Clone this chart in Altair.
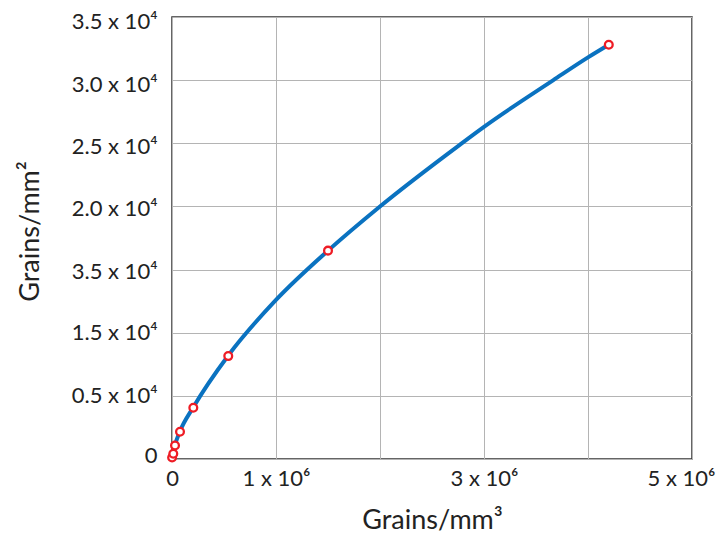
import altair as alt
import pandas as pd

# Measured points (red circles)
pt_x = [1000, 12500, 29000, 77000, 205000, 541000, 1500000, 4200000]
pt_y = [120, 410, 1070, 2160, 4060, 8150, 16500, 32800]

# Fitted curve
cv_x = [0, 29000, 77000, 205000, 541000, 1000000,
        1500000, 1985000, 2770000, 3000000, 3667000, 4000000, 4200000]
cv_y = [0, 1100, 2200, 4100, 8200, 12600,
        16500, 19900, 24900, 26300, 30000, 31800, 32800]

x_ticks = [0, 1000000, 2000000, 3000000, 4000000, 5000000]
x_labels = ["0", "1 x 10⁶", "", "3 x 10⁶", "", "5 x 10⁶"]
y_ticks = [0, 5000, 10000, 15000, 20000, 25000, 30000, 35000]
y_labels = ["0", "0.5 x 10⁴", "1.5 x 10⁴", "3.5 x 10⁴", "2.0 x 10⁴",
            "2.5 x 10⁴", "3.0 x 10⁴", "3.5 x 10⁴"]

pts = pd.DataFrame({"x": pt_x, "y": pt_y})
curve = pd.DataFrame({"x": cv_x, "y": cv_y})

FONT = "Lato"

def js_list(items):
    return "[" + ",".join("'" + s + "'" for s in items) + "]"

xscale = alt.Scale(domain=[0, 5000000], nice=False, zero=False)
yscale = alt.Scale(domain=[0, 35000], nice=False, zero=False)

xaxis = alt.Axis(
    values=x_ticks,
    labelExpr=js_list(x_labels) + "[round(datum.value/1000000)]",
    title="Grains/mm³",
    grid=True, gridColor="#b4b4b4", gridWidth=1,
    ticks=False, domain=False,
    labelFont=FONT, labelFontSize=22, labelColor="#222", labelPadding=9,
    labelOverlap=False, labelFlush=False,
    labelOffset={"condition": {"test": "datum.value >= 5000000", "value": -11}, "value": 0},
    titleFont=FONT, titleFontSize=27, titleFontWeight="normal", titleColor="#222",
    titleBaseline="alphabetic", titleY=69,
)
yaxis = alt.Axis(
    values=y_ticks,
    labelExpr=js_list(y_labels) + "[round(datum.value/5000)]",
    title="Grains/mm²",
    grid=True, gridColor="#b4b4b4", gridWidth=1,
    ticks=False, domain=False,
    labelFont=FONT, labelFontSize=22, labelColor="#222", labelPadding=15,
    labelOverlap=False, labelFlush=False,
    labelOffset={"condition": [
        {"test": "datum.value >= 30000", "value": 4},
        {"test": "datum.value >= 25000", "value": 3},
        {"test": "datum.value >= 15000", "value": 2},
        {"test": "datum.value == 0", "value": -4},
    ], "value": 0},
    titleFont=FONT, titleFontSize=27, titleFontWeight="normal", titleColor="#222",
    titleBaseline="alphabetic", titleX=-134, titleY=214, titleAngle=270,
)

line = alt.Chart(curve).mark_line(
    color="#0a72c0", strokeWidth=4, interpolate="monotone"
).encode(
    x=alt.X("x:Q", scale=xscale, axis=xaxis),
    y=alt.Y("y:Q", scale=yscale, axis=yaxis),
)

points = alt.Chart(pts).mark_point(
    shape="circle", filled=True, fill="white", stroke="#ee1c25",
    strokeWidth=2.3, size=60, opacity=1
).encode(
    x=alt.X("x:Q", scale=xscale),
    y=alt.Y("y:Q", scale=yscale),
)

chart = alt.layer(line, points).properties(
    width=520, height=442,
    padding={"left": 164, "top": 9, "right": 25, "bottom": 76},
    autosize=alt.AutoSizeParams(type="none"),
).configure_view(
    stroke="#333", strokeWidth=1.5
)

chart.save("out.html", embed_options={"renderer": "svg", "actions": False})
